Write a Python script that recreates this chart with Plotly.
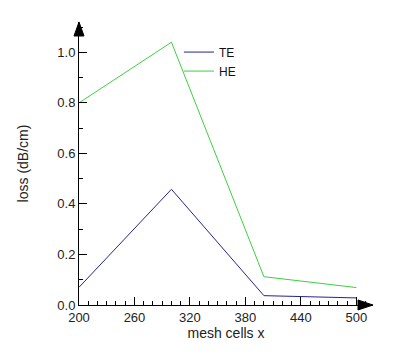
import plotly.graph_objects as go

mesh_cells = [200, 300, 400, 500]
loss_te = [0.07, 0.458, 0.037, 0.028]
loss_he = [0.80, 1.04, 0.112, 0.069]
x_ticks = [200, 260, 320, 380, 440, 500]
y_ticks = [0.0, 0.2, 0.4, 0.6, 0.8, 1.0]

font = dict(family="Liberation Sans, Arial, sans-serif", size=13, color="#222222")

fig = go.Figure()
fig.add_trace(go.Scatter(x=mesh_cells, y=loss_te, mode="lines", name="TE",
                         line=dict(color="#24248f", width=1)))
fig.add_trace(go.Scatter(x=mesh_cells, y=loss_he, mode="lines", name="HE",
                         line=dict(color="#3fcf3f", width=1)))

fig.update_layout(
    width=396, height=356,
    margin=dict(l=79, r=23, t=22, b=51),
    plot_bgcolor="white", paper_bgcolor="white",
    font=font,
    showlegend=True,
    legend=dict(x=0.34, y=0.945, xanchor="left", yanchor="top",
                bgcolor="rgba(0,0,0,0)", font=dict(size=12, color="#111"),
                itemwidth=30, tracegroupgap=0),
    xaxis=dict(range=[200, 518], tickvals=x_ticks, ticktext=[str(v) for v in x_ticks],
               showline=True, linecolor="black", linewidth=1, showgrid=False, zeroline=False,
               ticks="inside", ticklen=8, tickcolor="black",
               minor=dict(dtick=10, tick0=200, ticks="inside", ticklen=4, tickcolor="black"),
               title=dict(text="mesh cells x", standoff=0, font=dict(size=14))),
    yaxis=dict(range=[0, 1.12], tickvals=y_ticks, ticktext=[f"{v:.1f}" for v in y_ticks],
               showline=True, linecolor="black", linewidth=1, showgrid=False, zeroline=False,
               ticks="inside", ticklen=8, tickcolor="black",
               minor=dict(dtick=0.1, tick0=0, ticks="inside", ticklen=4, tickcolor="black"),
               title=dict(text="loss (dB/cm)", standoff=25, font=dict(size=14))),
)

# arrowheads at axis ends (domain coordinates)
W, H = 294.0, 283.3
fig.add_shape(type="path", xref="x domain", yref="y domain",
              path=f"M 0,1 L {-5/W},{1-14/H} L {5/W},{1-14/H} Z",
              fillcolor="black", line=dict(color="black", width=1))
fig.add_shape(type="path", xref="x domain", yref="y domain",
              path=f"M 1,0 L {1-15/W},{5/H} L {1-15/W},{-5/H} Z",
              fillcolor="black", line=dict(color="black", width=1))

fig.write_html("out.html", config={"displayModeBar": False},
               post_script="document.body.style.margin='0px';")
